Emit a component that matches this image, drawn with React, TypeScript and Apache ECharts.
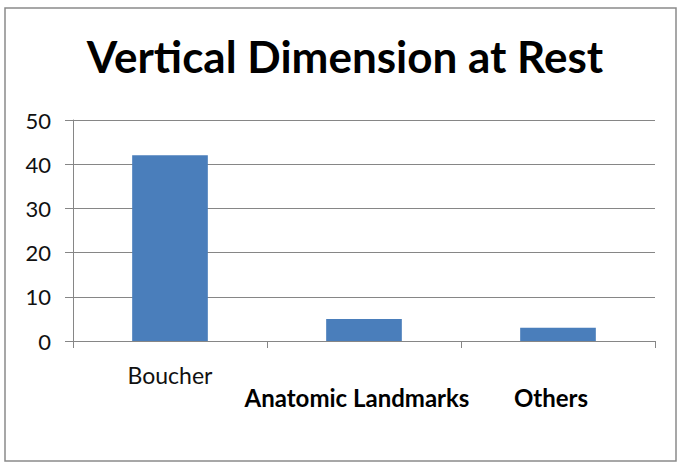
import React, { useEffect, useRef } from "react";
import * as echarts from "echarts";

const categories = ["Boucher", "Anatomic Landmarks", "Others"];
const values = [42, 5, 3];
const titleText = "Vertical Dimension at Rest";

export default function App() {
  const ref = useRef<HTMLDivElement>(null);
  useEffect(() => {
    if (!ref.current) return;
    const chart = echarts.init(ref.current, undefined, { renderer: "svg" });
    chart.setOption({
      animation: false,
      backgroundColor: "#ffffff",
      textStyle: { fontFamily: "Lato" },
      title: {
        text: titleText,
        left: 340,
        textAlign: "center",
        top: 29,
        textStyle: { fontFamily: "Lato", fontWeight: "bold", fontSize: 44, color: "#000" },
      },
      graphic: [
        {
          type: "rect",
          shape: { x: 5, y: 8, width: 671, height: 453 },
          style: { fill: "none", stroke: "#8a8a8a", lineWidth: 1.5 },
          silent: true,
        },
      ],
      grid: { left: 73, right: 23, top: 120, bottom: 123, containLabel: false },
      xAxis: {
        type: "category",
        data: categories,
        axisLine: { show: true, lineStyle: { color: "#868686", width: 1 } },
        axisTick: { show: true, length: 7, lineStyle: { color: "#868686" } },
        axisLabel: {
          margin: 22,
          interval: 0,
          formatter: (v: string, i: number) => (i === 0 ? `{a|${v}}` : `{b|${v}}`),
          rich: {
            a: { fontFamily: "Lato", fontSize: 23, color: "#111", lineHeight: 24 },
            b: {
              fontFamily: "Lato",
              fontSize: 24,
              fontWeight: "bold",
              color: "#000",
              lineHeight: 68,
              padding: [0, 14, 0, 0],
            },
          },
        },
      },
      yAxis: {
        type: "value",
        min: 0,
        max: 50,
        interval: 10,
        axisLine: { show: true, lineStyle: { color: "#868686", width: 1 } },
        axisTick: { show: true, length: 8, lineStyle: { color: "#868686" } },
        axisLabel: { margin: 22, fontFamily: "Lato", fontSize: 22, color: "#111" },
        splitLine: { show: true, lineStyle: { color: "#868686", width: 1 } },
      },
      series: [
        {
          type: "bar",
          data: values,
          barWidth: "39%",
          itemStyle: { color: "#4a7ebb" },
        },
      ],
    });
    return () => chart.dispose();
  }, []);
  return (
    <div
      ref={ref}
      style={{ width: 678, height: 464, position: "absolute", left: 0, top: 0 }}
    />
  );
}
